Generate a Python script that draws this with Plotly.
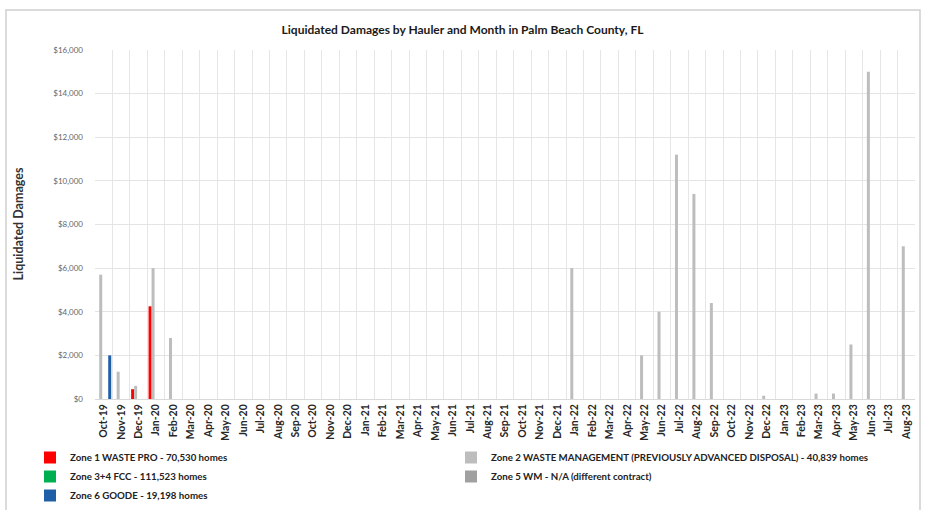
import plotly.graph_objects as go

months = ["Oct-19","Nov-19","Dec-19","Jan-20","Feb-20","Mar-20","Apr-20","May-20","Jun-20","Jul-20",
          "Aug-20","Sep-20","Oct-20","Nov-20","Dec-20","Jan-21","Feb-21","Mar-21","Apr-21","May-21",
          "Jun-21","Jul-21","Aug-21","Sep-21","Oct-21","Nov-21","Dec-21","Jan-22","Feb-22","Mar-22",
          "Apr-22","May-22","Jun-22","Jul-22","Aug-22","Sep-22","Oct-22","Nov-22","Dec-22","Jan-23",
          "Feb-23","Mar-23","Apr-23","May-23","Jun-23","Jul-23","Aug-23"]

zone1 = {"Dec-19": 450, "Jan-20": 4250}
zone2 = {"Oct-19": 5700, "Nov-19": 1250, "Dec-19": 600, "Jan-20": 6000, "Feb-20": 2800,
         "Jan-22": 6000, "May-22": 2000, "Jun-22": 4000, "Jul-22": 11200, "Aug-22": 9400,
         "Sep-22": 4400, "Dec-22": 150, "Mar-23": 250, "Apr-23": 250, "May-23": 2500,
         "Jun-23": 15000, "Aug-23": 7000}
zone34 = {}
zone5 = {}
zone6 = {"Oct-19": 2000}

series_names = ["Zone 1 WASTE PRO - 70,530 homes",
                "Zone 2 WASTE MANAGEMENT (PREVIOUSLY ADVANCED DISPOSAL) - 40,839 homes",
                "Zone 3+4 FCC - 111,523 homes",
                "Zone 5 WM - N/A (different contract)",
                "Zone 6 GOODE - 19,198 homes"]
series_data = [zone1, zone2, zone34, zone5, zone6]
colors = ["#ff0000", "#bdbdbd", "#00b050", "#a0a0a0", "#1f5fa8"]

FONT = "Lato"
W, H = 925, 510
ML, MR, MT, MB = 95, 10, 50, 111
PW, PH = W - ML - MR, H - MT - MB

def px_x(px):
    return (px - ML) / PW

def px_y(py):
    return (H - MB - py) / PH

fig = go.Figure()
for name, d, c in zip(series_names, series_data, colors):
    fig.add_trace(go.Bar(
        x=months, y=[d.get(m, 0) for m in months], name=name,
        marker=dict(color=c, line=dict(width=0)),
    ))

fig.update_layout(
    width=W, height=H,
    margin=dict(l=ML, r=MR, t=MT, b=MB, autoexpand=False),
    paper_bgcolor="white", plot_bgcolor="white",
    barmode="group", bargap=0.14, bargroupgap=0.0,
    font=dict(family=FONT, color="#404040"),
    title=dict(text="<b>Liquidated Damages by Hauler and Month in Palm Beach County, FL</b>",
               x=0.5, xref="container", xanchor="center", y=1 - 30 / H, yanchor="middle",
               font=dict(family=FONT, size=12, color="#1a1a1a")),
    xaxis=dict(
        type="category", tickangle=-90, tickson="boundaries",
        showgrid=True, gridcolor="#e6e6e6", gridwidth=1,
        ticks="", showline=True, linecolor="#d9d9d9",
        tickfont=dict(family=FONT, size=10.5, color="#262626", weight="bold"),
        range=[-0.5, len(months) - 0.5],
    ),
    yaxis=dict(
        range=[0, 16000], dtick=2000, tickformat="$,.0f",
        showgrid=True, gridcolor="#e4e4e4", gridwidth=1,
        zeroline=False, ticks="", showline=False,
        tickfont=dict(family=FONT, size=8, color="#666666"),
        ticklabelstandoff=11,
    ),
    legend=dict(
        orientation="h", x=px_x(30), xanchor="left", y=px_y(443), yanchor="top",
        entrywidth=376, entrywidthmode="pixels",
        font=dict(family=FONT, size=9.7, color="#222222", weight="bold"),
        itemwidth=30, traceorder="normal", bgcolor="rgba(0,0,0,0)",
    ),
    showlegend=True,
    annotations=[dict(
        text="<b>Liquidated Damages</b>", textangle=-90,
        x=px_x(18), y=0.5, xref="paper", yref="paper",
        xanchor="center", yanchor="middle", showarrow=False,
        font=dict(family=FONT, size=12.5, color="#333333"),
    )],
    shapes=[dict(
        type="rect", xref="paper", yref="paper",
        x0=px_x(6), x1=px_x(920), y0=px_y(530), y1=px_y(10),
        line=dict(color="#cfcfcf", width=1.5), fillcolor="rgba(0,0,0,0)", layer="below",
    )],
)

fig.write_html("out.html", config={"displayModeBar": False},
               post_script="document.body.style.margin='0';document.body.style.overflow='hidden';")
